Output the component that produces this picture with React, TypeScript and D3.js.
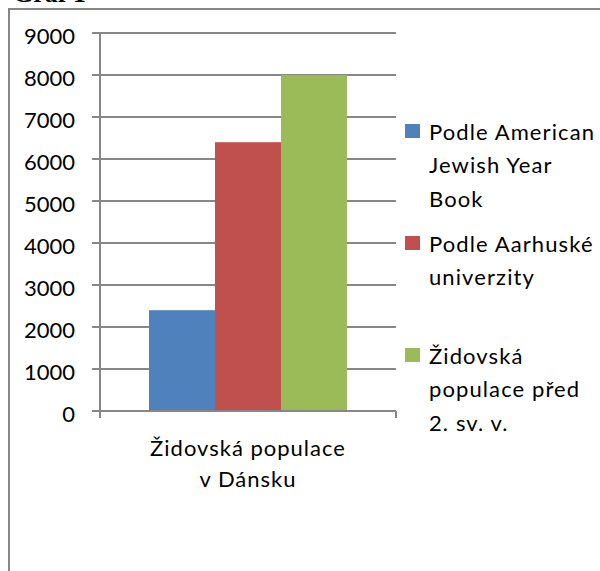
import React from "react";
import * as d3 from "d3";

// chart data
const categories: string[] = ["Židovská populace v Dánsku"];
const categoryLines: string[] = ["Židovská populace", "v Dánsku"];
const seriesNames: string[] = [
  "Podle American Jewish Year Book",
  "Podle Aarhuské univerzity",
  "Židovská populace před 2. sv. v.",
];
const legendLines: string[][] = [
  ["Podle American", "Jewish Year", "Book"],
  ["Podle Aarhuské", "univerzity"],
  ["Židovská", "populace před", "2. sv. v."],
];
const values: number[] = [2400, 6400, 8000];
const yTicks: number[] = [0, 1000, 2000, 3000, 4000, 5000, 6000, 7000, 8000, 9000];
const colors: string[] = ["#4f81bd", "#c0504d", "#9bbb59"];

const App: React.FC = () => {
  const width = 600;
  const height = 571;
  const font = "Lato, 'DejaVu Sans', sans-serif";
  const axisColor = "#878787";

  // plot area
  const plotLeft = 100;
  const plotRight = 396;
  const plotTop = 33;
  const plotBottom = 411;

  const yScale = d3.scaleLinear().domain([0, 9000]).range([plotBottom, plotTop]);

  const xScale = d3
    .scaleBand<string>()
    .domain(categories)
    .range([plotLeft, plotRight])
    .paddingInner(0)
    .paddingOuter(0.2475);

  const seriesScale = d3
    .scaleBand<string>()
    .domain(seriesNames)
    .range([0, xScale.bandwidth()]);

  const legendY = [124, 236, 348];

  return (
    <svg
      width={width}
      height={height}
      style={{ position: "absolute", left: 0, top: 0, background: "#fff" }}
    >
      {/* title cut off at top */}
      <text x={13} y={2} fontFamily="'Liberation Serif', serif" fontWeight="bold" fontSize={26} fill="#000">
        Graf 1
      </text>

      {/* outer frame */}
      <path d={`M9,${height + 2} L9,9 L${width + 2},9`} fill="none" stroke={axisColor} strokeWidth={2} />

      {/* grid lines */}
      {yTicks.map((t) => (
        <line
          key={`g-${t}`}
          x1={plotLeft - 8}
          x2={plotRight}
          y1={yScale(t)}
          y2={yScale(t)}
          stroke={axisColor}
          strokeWidth={2}
        />
      ))}

      {/* bars */}
      {categories.map((c) => (
        <g key={c} transform={`translate(${xScale(c)},0)`}>
          {seriesNames.map((s, i) => (
            <rect
              key={s}
              x={seriesScale(s)}
              y={yScale(values[i])}
              width={seriesScale.bandwidth()}
              height={plotBottom - yScale(values[i])}
              fill={colors[i]}
            />
          ))}
        </g>
      ))}

      {/* y axis */}
      <line x1={plotLeft} x2={plotLeft} y1={plotTop} y2={plotBottom + 7} stroke={axisColor} strokeWidth={2} />
      {/* x axis */}
      <line x1={plotLeft - 8} x2={plotRight} y1={plotBottom} y2={plotBottom} stroke={axisColor} strokeWidth={2} />
      <line x1={plotRight} x2={plotRight} y1={plotBottom} y2={plotBottom + 7} stroke={axisColor} strokeWidth={2} />

      {/* y tick labels */}
      {yTicks.map((t) => (
        <text
          key={`t-${t}`}
          x={75}
          y={yScale(t) + 11}
          textAnchor="end"
          fontFamily={font}
          fontSize={22}
          fill="#000"
        >
          {t}
        </text>
      ))}

      {/* category label */}
      {categories.map((c) => (
        <text
          key={`c-${c}`}
          x={(xScale(c) as number) + xScale.bandwidth() / 2}
          textAnchor="middle"
          fontFamily={font}
          fontSize={22}
          letterSpacing={1}
          fill="#000"
        >
          {categoryLines.map((l, i) => (
            <tspan key={i} x={(xScale(c) as number) + xScale.bandwidth() / 2} y={456 + i * 31}>
              {l}
            </tspan>
          ))}
        </text>
      ))}

      {/* legend */}
      {seriesNames.map((s, i) => (
        <g key={`l-${s}`}>
          <rect x={405} y={legendY[i]} width={15} height={14} fill={colors[i]} />
          <text fontFamily={font} fontSize={22} letterSpacing={1.1} fill="#000">
            {legendLines[i].map((l, j) => (
              <tspan key={j} x={429} y={legendY[i] + 16 + j * 33.3}>
                {l}
              </tspan>
            ))}
          </text>
        </g>
      ))}
    </svg>
  );
};

export default App;
